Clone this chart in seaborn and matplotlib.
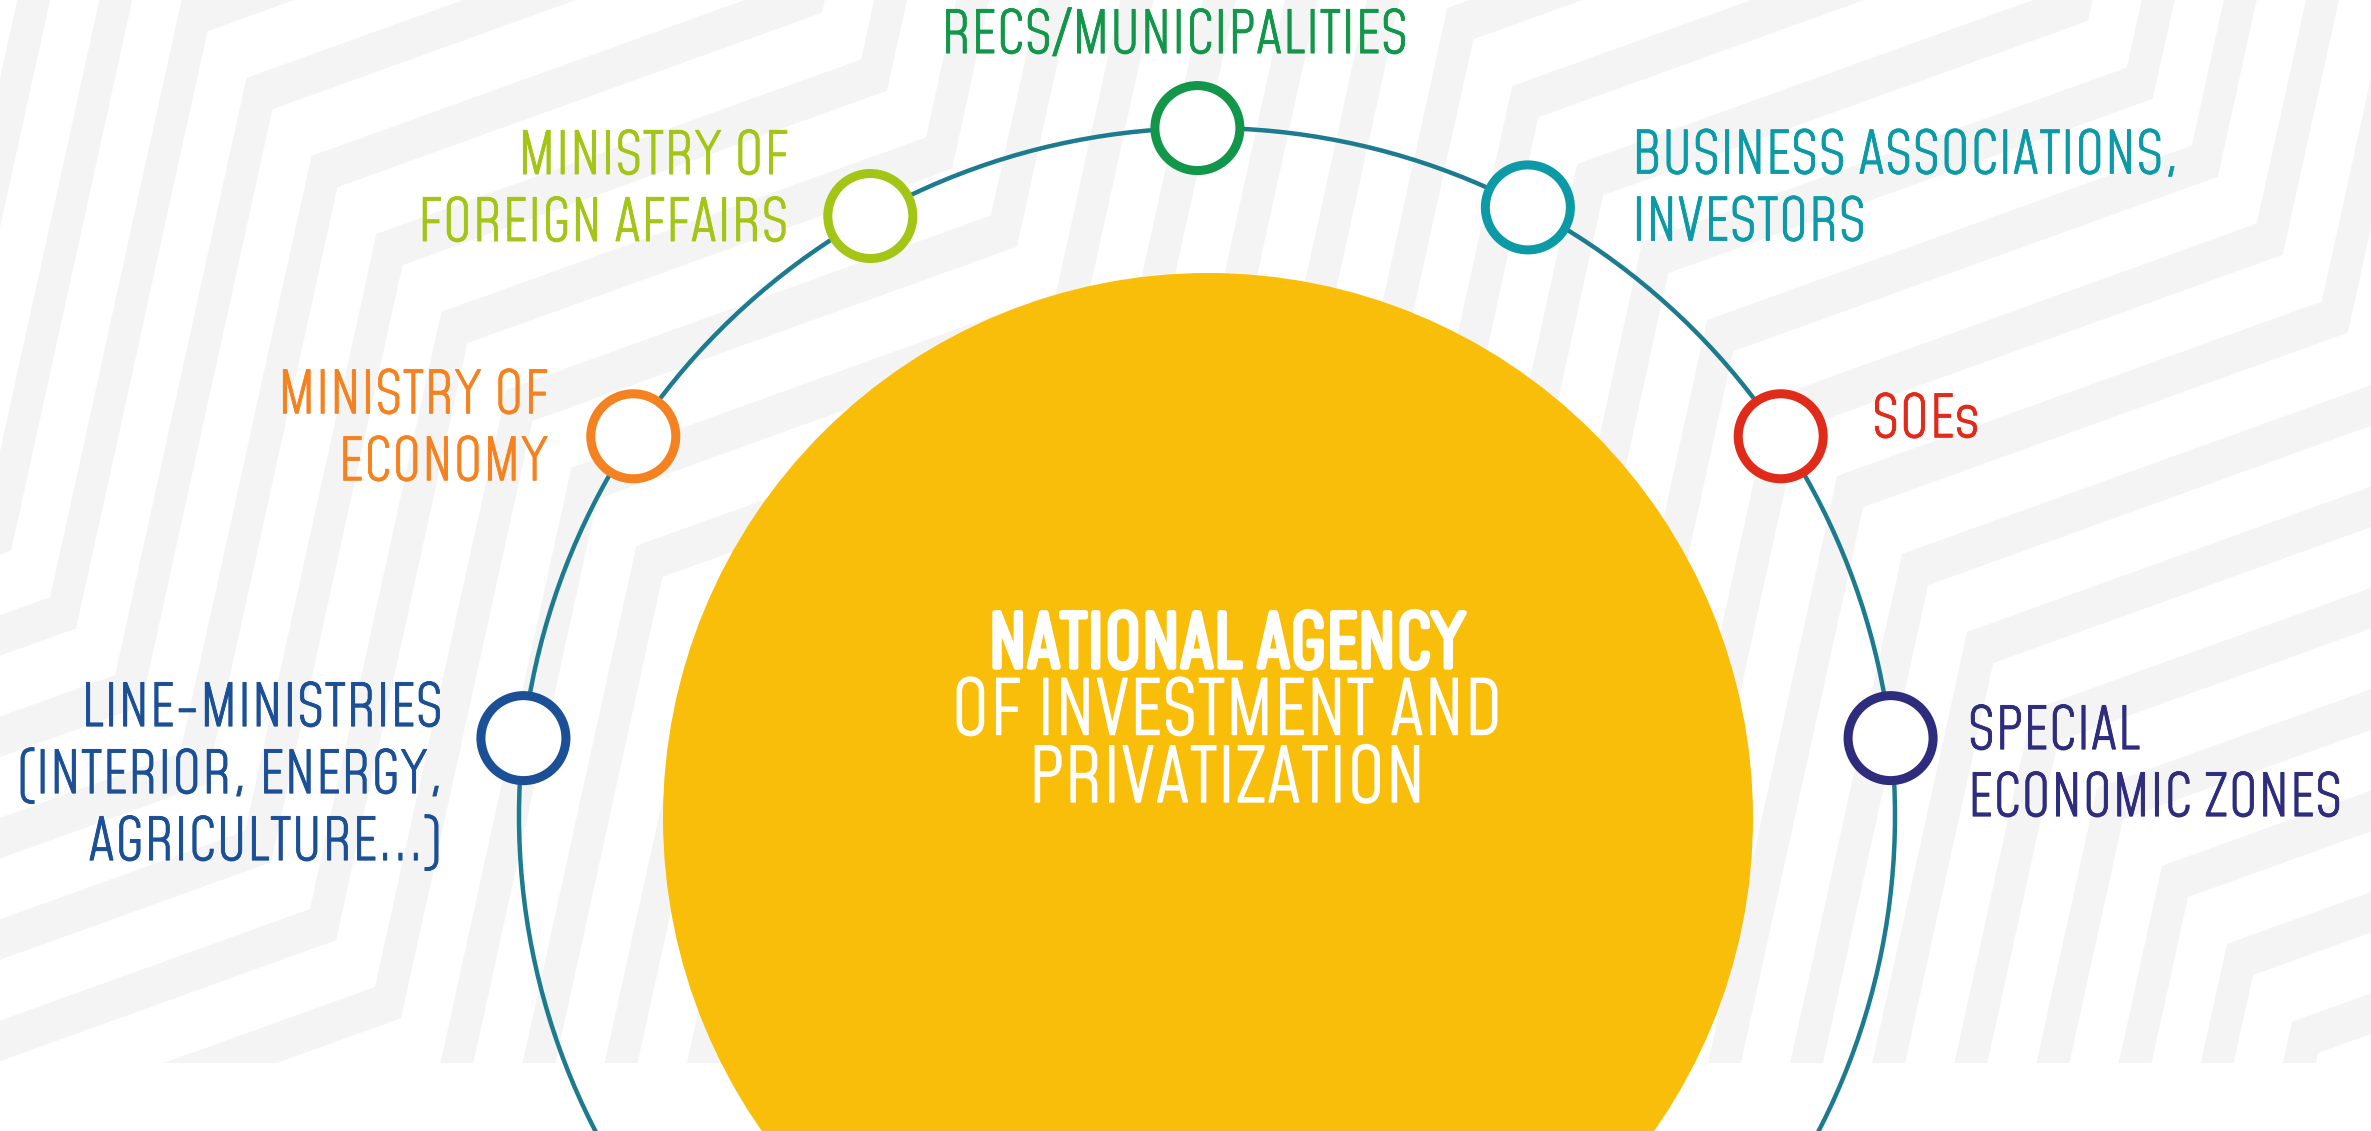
import numpy as np
import pandas as pd
import matplotlib
matplotlib.use("Agg")
import matplotlib.pyplot as plt
import matplotlib.patheffects as pe
from matplotlib import font_manager
from matplotlib.patches import Circle, Rectangle, Polygon
import seaborn as sns

W, H = 2371, 1131

# ---- data ----
node_labels = ["SPECIAL\nECONOMIC ZONES", "SOEs", "BUSINESS ASSOCIATIONS,\nINVESTORS",
               "RECS/MUNICIPALITIES", "MINISTRY OF\nFOREIGN AFFAIRS", "MINISTRY OF\nECONOMY",
               "LINE-MINISTRIES\n(INTERIOR, ENERGY,\nAGRICULTURE...)"]
node_angles = [6.5, 33.5, 62.2, 90.8, 119.3, 146.5, 173.5]
node_colors = ["#2e2c7c", "#e02b1a", "#0b9aa6", "#12964a", "#a3c516", "#f58220", "#1b4f96"]
center_title = ["NATIONAL AGENCY", "OF INVESTMENT AND", "PRIVATIZATION"]

# ---- layout ----
ring_cx, ring_cy, ring_r = 1207, 816, 688
sun_cx, sun_cy, sun_r = 1208, 818, 545
label_dx = [77, 91, 104, -23, -82, -85, -81]
label_dy = [11, 1, -34, -75, -42, -23, -12]   # first baseline relative to node
label_ha = ["left", "left", "left", "center", "right", "right", "right"]

sns.set_theme(style="white")
names = {f.name for f in font_manager.fontManager.ttflist}
fam = ["Mohave", "DejaVu Sans"] if "Mohave" in names else ["DejaVu Sans"]

fig = plt.figure(figsize=(W / 100, H / 100), dpi=100)
ax = fig.add_axes([0, 0, 1, 1])

# zigzag background stripes
a_sh, b_st, m = 0.36, 0.22, 1.2
gap1, gap2, x_l1 = 630, 629, 181.5
j = -a_sh * gap1 / (m + a_sh)
S = np.array([gap1 + j, -a_sh * (gap1 + j)])
k = -gap2 / (1 + b_st * m)
T = np.array([b_st * (-k * m), k * m])
P = S + T
base = []
for n in range(-3, 5):
    Ln = np.array([x_l1, 0.0]) + n * P
    base += [Ln, Ln + S]
base = np.array(base)
d = 101.5 * np.array([1, m]) / np.hypot(1, m)
clip = Rectangle((0, 0), W, 1063, transform=ax.transData)
for kk in range(-8, 36):
    A = base + kk * d
    B = base + (kk + 0.4) * d
    poly = Polygon(np.vstack([A, B[::-1]]), closed=True, fc="#f4f4f4", ec="none", zorder=0)
    ax.add_patch(poly)
    poly.set_clip_path(clip)

ax.add_patch(Circle((ring_cx, ring_cy), ring_r, fill=False, ec="#1d7b8f", lw=3.2, zorder=2))
ax.add_patch(Circle((sun_cx, sun_cy), sun_r, fc="#f8be0a", ec="none", zorder=3))

th = np.deg2rad(node_angles)
nodes = pd.DataFrame({"x": ring_cx + ring_r * np.cos(th),
                      "y": ring_cy - ring_r * np.sin(th),
                      "label": node_labels})
sns.scatterplot(data=nodes, x="x", y="y", s=3745, color="white",
                edgecolor=node_colors, linewidth=6.5, zorder=4, legend=False, ax=ax)
ax.set_xlim(0, W)
ax.set_ylim(H, 0)
ax.axis("off")

pitch = 67
for i, row in nodes.iterrows():
    for li, txt in enumerate(row["label"].split("\n")):
        ax.text(row["x"] + label_dx[i], row["y"] + label_dy[i] + li * pitch, txt,
                ha=label_ha[i], va="baseline", color=node_colors[i],
                fontsize=42, family=fam, zorder=5,
                path_effects=[pe.withStroke(linewidth=0.6, foreground=node_colors[i])])

# centre title: first line heavier
title_size = [52, 54, 54]
title_stroke = [4.0, 1.0, 1.0]
for li, txt in enumerate(center_title):
    ax.text(1227, 667 + li * 67.5, txt, ha="center", va="baseline",
            color="white", fontsize=title_size[li], family=fam, zorder=5,
            path_effects=[pe.withStroke(linewidth=title_stroke[li], foreground="white")])

fig.savefig("out.png", dpi=100)
